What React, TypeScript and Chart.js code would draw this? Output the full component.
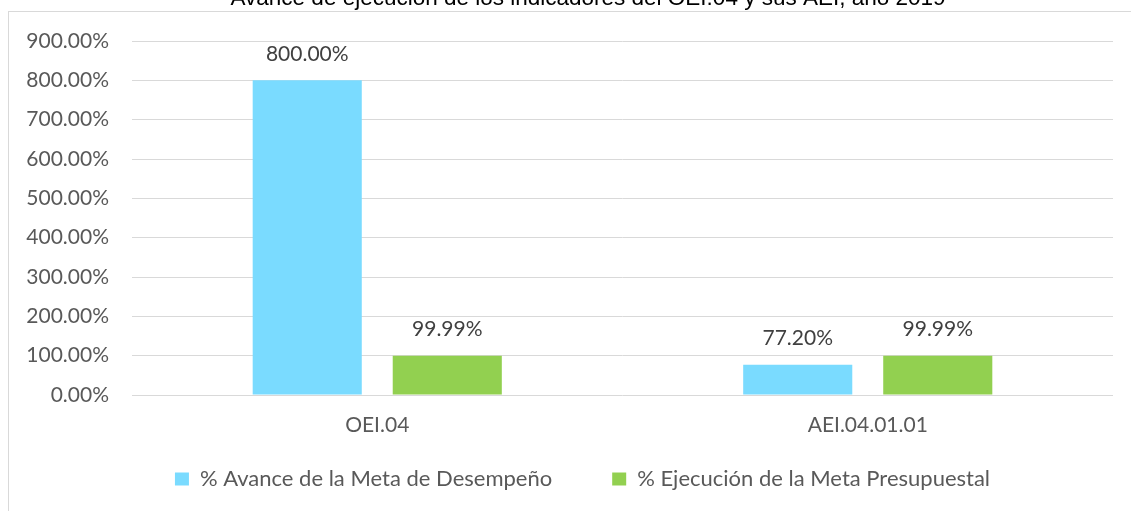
import React, { useEffect, useRef } from "react";
import { Chart, registerables } from "chart.js";

Chart.register(...registerables);

const titleText = "Avance de ejecución de los indicadores del OEI.04 y sus AEI, año 2019";
const categories = ["OEI.04", "AEI.04.01.01"];
const seriesNames = ["% Avance de la Meta de Desempeño", "% Ejecución de la Meta Presupuestal"];
const avanceMeta = [800.0, 77.2];
const ejecucionPresupuestal = [99.99, 99.99];
const yMin = 0;
const yMax = 900;
const yStep = 100;

const FONT = "Lato";
const FS = 21;
const LEGEND_FS = 22;
const fmt = (v: number) => v.toFixed(2) + "%";

const framePlugin = {
  id: "frameTitle",
  afterLayout(chart: any) {
    const lg = chart.legend;
    if (lg) {
      lg.top = 408;
      lg.bottom = chart.height;
      lg.height = chart.height - 408;
      lg.left += 26;
      lg.right += 26;
    }
  },
  beforeDraw(chart: any) {
    const ctx = chart.ctx;
    ctx.save();
    ctx.fillStyle = "#ffffff";
    ctx.fillRect(0, 0, chart.width, chart.height);
    ctx.strokeStyle = "#D9D9D9";
    ctx.lineWidth = 1;
    ctx.strokeRect(8.5, 11.5, chart.width + 20, chart.height + 20);
    ctx.fillStyle = "#000000";
    ctx.font = "22.5px 'Liberation Sans'";
    ctx.textAlign = "center";
    ctx.textBaseline = "alphabetic";
    ctx.fillText(titleText, 588, 5);
    ctx.restore();
  },
};

const dataLabelPlugin = {
  id: "dataLabels",
  afterDatasetsDraw(chart: any) {
    const ctx = chart.ctx;
    ctx.save();
    ctx.fillStyle = "#404040";
    ctx.font = `${FS}px ${FONT}`;
    ctx.textAlign = "center";
    ctx.textBaseline = "bottom";
    chart.data.datasets.forEach((ds: any, i: number) => {
      const meta = chart.getDatasetMeta(i);
      meta.data.forEach((bar: any, j: number) => {
        ctx.fillText(fmt(ds.data[j]), bar.x, bar.y - 16);
      });
    });
    ctx.restore();
  },
};

export default function App() {
  const ref = useRef<HTMLCanvasElement | null>(null);
  useEffect(() => {
    if (!ref.current) return;
    const chart = new Chart(ref.current, {
      type: "bar",
      data: {
        labels: categories,
        datasets: [
          {
            label: seriesNames[0],
            data: avanceMeta,
            backgroundColor: "#7ADBFF",
            categoryPercentage: 0.571,
            barPercentage: 0.779,
          },
          {
            label: seriesNames[1],
            data: ejecucionPresupuestal,
            backgroundColor: "#92D050",
            categoryPercentage: 0.571,
            barPercentage: 0.779,
          },
        ],
      },
      options: {
        responsive: false,
        animation: false,
        layout: { padding: { left: 0, right: 18, top: 41, bottom: 0 } },
        plugins: {
          legend: {
            position: "bottom",
            maxHeight: 71,
            labels: {
              boxWidth: 14,
              boxHeight: 13,
              padding: 60,
              color: "#595959",
              font: { family: FONT, size: LEGEND_FS },
            },
          },
          tooltip: { enabled: false },
          title: { display: false },
        },
        scales: {
          x: {
            grid: { display: false, drawTicks: false },
            border: { display: false },
            ticks: { color: "#595959", padding: 18, font: { family: FONT, size: FS } },
            afterFit(scale: any) {
              scale.height = 45;
            },
          },
          y: {
            min: yMin,
            max: yMax,
            grid: { color: "#D9D9D9", drawTicks: false },
            border: { display: false },
            ticks: {
              stepSize: yStep,
              color: "#595959",
              padding: 23,
              font: { family: FONT, size: FS },
              callback: (v: any) => fmt(Number(v)),
            },
            afterFit(scale: any) {
              scale.width = 132;
            },
          },
        },
      },
      plugins: [framePlugin, dataLabelPlugin],
    });
    return () => chart.destroy();
  }, []);
  return (
    <div style={{ position: "absolute", left: 0, top: 0, width: 1131, height: 511 }}>
      <canvas ref={ref} width={1131} height={511} style={{ display: "block" }} />
    </div>
  );
}
